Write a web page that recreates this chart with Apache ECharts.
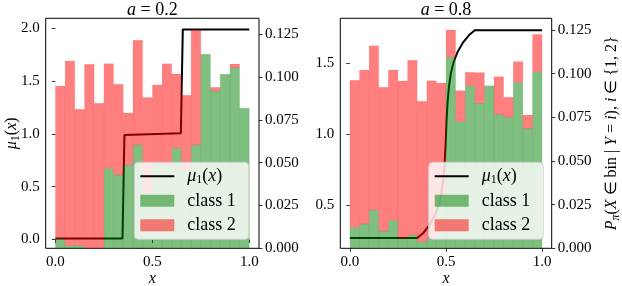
<!DOCTYPE html>
<html><head><meta charset="utf-8">
<script src="https://cdn.jsdelivr.net/npm/echarts@6/dist/echarts.min.js"></script>
<style>html,body{margin:0;padding:0;background:#fff}#c{width:622px;height:286px}</style>
</head><body><div id="c"></div>
<script>
// histogram bin edges (x)
const binEdges = [0, 0.05, 0.1, 0.15, 0.2, 0.25, 0.3, 0.35, 0.4, 0.45, 0.5, 0.55, 0.6, 0.65, 0.7, 0.75, 0.8, 0.85, 0.9, 0.95, 1.0];

// a = 0.2 panel: P(X in bin | Y = i)
const class1A = [0.0054, 0.0015, 0.0015, 0, 0, 0.0467, 0.0428, 0.0487, 0.0603, 0.0321, 0.049, 0.049, 0.0584, 0.0457, 0.0603, 0.1133, 0.0919, 0.1016, 0.1055, 0.0818];
const class2A = [0.0894, 0.1079, 0.0797, 0.1075, 0.0847, 0.0611, 0.053, 0.0303, 0.0612, 0.0559, 0.0464, 0.0588, 0.0434, 0.0437, 0.0672, 0, 0.0021, 0, 0.0021, 0];
const muXA = [0, 0.346, 0.356, 0.647, 0.657, 1.0];
const muYA = [0.01, 0.01, 0.99, 1.007, 1.99, 1.99];

// a = 0.8 panel
const class1B = [0.012, 0.0139, 0.0219, 0.0099, 0.016, 0.0059, 0.0076, 0.0038, 0.006, 0.03, 0.1094, 0.0725, 0.0931, 0.083, 0.0931, 0.0767, 0.075, 0.095, 0.0687, 0.1011];
const class2B = [0.0842, 0.0882, 0.0941, 0.0823, 0.0861, 0.0899, 0.1001, 0.0804, 0.09, 0.0647, 0.0156, 0.0178, 0.0077, 0.0176, 0, 0.0216, 0.0115, 0.0119, 0.0076, 0.0214];
const muXB = [0, 0.35, 0.38, 0.41, 0.44, 0.46, 0.475, 0.485, 0.492, 0.497, 0.5, 0.503, 0.508, 0.515, 0.525, 0.54, 0.56, 0.59, 0.62, 0.65, 1.0];
const muYB = [0.267, 0.267, 0.30, 0.35, 0.42, 0.49, 0.57, 0.67, 0.78, 0.9, 1.0, 1.1, 1.22, 1.33, 1.43, 1.51, 1.58, 1.65, 1.70, 1.733, 1.733];

// tick labels
const xTicks = [0, 0.5, 1.0];
const muTicksA = [0, 0.5, 1.0, 1.5, 2.0];
const muTicksB = [0.5, 1.0, 1.5];
const probTicks = [0, 0.025, 0.05, 0.075, 0.1, 0.125];
const titles = ['0.2', '0.8'];

const FONT = 'Liberation Serif';
const GREEN = 'rgba(0,128,0,0.5)';
const RED = 'rgba(255,0,0,0.5)';
const LINE_ICON = 'path://M0,0h34v0.02h-34z M0,5h34v2h-34z M0,11.98h34v0.02h-34z';

function histSeries(name, xi, yi, lower, upper, fill, stroke) {
  const data = lower.map((b, k) => [binEdges[k], binEdges[k + 1], b, upper[k]]);
  return {
    type: 'custom', name, xAxisIndex: xi, yAxisIndex: yi, z: 3,
    itemStyle: { color: fill },
    encode: { x: [0, 1], y: [2, 3] },
    data,
    renderItem(params, api) {
      const y0 = api.value(2), y1 = api.value(3);
      if (y1 - y0 <= 0) return null;
      const a = api.coord([api.value(0), y0]);
      const b = api.coord([api.value(1), y1]);
      return { type: 'rect', shape: { x: a[0], y: b[1], width: b[0] - a[0], height: a[1] - b[1] },
        style: { fill, stroke, lineWidth: 0.6 } };
    }
  };
}
function lineSeries(xs, ys, xi, yi) {
  return { type: 'line', name: 'μ1(x)', xAxisIndex: xi, yAxisIndex: yi, z: 2,
    data: xs.map((x, k) => [x, ys[k]]), symbol: 'none', showSymbol: false,
    lineStyle: { color: '#000', width: 2 }, itemStyle: { color: '#000' } };
}
function sum(a, b) { return a.map((v, k) => v + b[k]); }

const tickStyle = { length: 3.5, lineStyle: { color: '#000', width: 0.8 } };
const labelStyle = { color: '#000', fontFamily: FONT, fontSize: 15 };

function xAx(g) {
  return { type: 'value', gridIndex: g, min: -0.05, max: 1.05,
    axisLine: { show: false }, splitLine: { show: false },
    axisTick: Object.assign({ show: true, customValues: xTicks }, tickStyle),
    axisLabel: Object.assign({ customValues: xTicks, margin: 6, formatter: v => v.toFixed(1) }, labelStyle) };
}
function yAx(g, pos, min, max, ticks, dec) {
  return { type: 'value', gridIndex: g, position: pos, min, max,
    axisLine: { show: false }, splitLine: { show: false },
    axisTick: Object.assign({ show: true, customValues: ticks }, tickStyle),
    axisLabel: Object.assign({ customValues: ticks, margin: 6, formatter: v => v.toFixed(dec) }, labelStyle) };
}

const rich = {
  i: { fontFamily: FONT, fontStyle: 'italic', fontSize: 18, lineHeight: 20, color: '#000' },
  n: { fontFamily: FONT, fontSize: 18, lineHeight: 20, color: '#000' },
  s: { fontFamily: FONT, fontSize: 12, lineHeight: 15, verticalAlign: 'bottom', color: '#000' }
};
function legendAt(left) {
  return {
    orient: 'vertical', left, top: 162.3,
    data: [{ name: 'μ1(x)', icon: LINE_ICON }, { name: 'class 1', icon: 'rect' }, { name: 'class 2', icon: 'rect' }],
    itemWidth: 34, itemHeight: 12, itemGap: 4.5,
    padding: [4, 13, 4, 6],
    backgroundColor: 'rgba(255,255,255,0.8)', borderColor: '#cccccc', borderWidth: 1, borderRadius: 4,
    selectedMode: false,
    formatter: n => n === 'μ1(x)' ? '{i|μ}{s|1}{n|(}{i|x}{n|)}' : '{n|' + n + '}',
    textStyle: { fontFamily: FONT, fontSize: 18, color: '#000', lineHeight: 20, padding: [0, 0, 0, 8], rich }
  };
}

const gRich = {
  i: { fontFamily: FONT, fontStyle: 'italic', fontSize: 17, color: '#000' },
  n: { fontFamily: FONT, fontSize: 17, color: '#000' },
  s: { fontFamily: FONT, fontStyle: 'italic', fontSize: 12, color: '#000', padding: [8, 0, 0, 0] },
  s1: { fontFamily: FONT, fontSize: 12, color: '#000', padding: [8, 0, 0, 0] }
};
function gText(x, y, text, size, rot) {
  const r = {};
  for (const k in gRich) r[k] = Object.assign({}, gRich[k], k[0] === 's' ? {} : { fontSize: size });
  return { type: 'text', x, y, rotation: rot || 0, z: 100,
    style: { text, align: 'center', verticalAlign: 'middle', fontFamily: FONT, fontSize: size, fill: '#000', rich: r } };
}

const option = {
  animation: false,
  textStyle: { fontFamily: FONT },
  grid: [
    { left: 45.7, top: 18.3, width: 213.3, height: 230, show: true, borderColor: '#000', borderWidth: 1, backgroundColor: 'transparent' },
    { left: 340.3, top: 18.3, width: 211.4, height: 230, show: true, borderColor: '#000', borderWidth: 1, backgroundColor: 'transparent' }
  ],
  xAxis: [xAx(0), xAx(1)],
  yAxis: [
    yAx(0, 'left', -0.083, 2.095, muTicksA, 1),
    yAx(0, 'right', 0, 0.1343, probTicks, 3),
    yAx(1, 'left', 0.194, 1.818, muTicksB, 1),
    yAx(1, 'right', 0, 0.1317, probTicks, 3)
  ],
  legend: [legendAt(134.3), legendAt(428.7)],
  series: [
    lineSeries(muXA, muYA, 0, 0),
    histSeries('class 1', 0, 1, class1A.map(() => 0), class1A, GREEN, 'rgba(0,100,0,0.15)'),
    histSeries('class 2', 0, 1, class1A, sum(class1A, class2A), RED, 'rgba(200,0,0,0.12)'),
    lineSeries(muXB, muYB, 1, 2),
    histSeries('class 1', 1, 3, class1B.map(() => 0), class1B, GREEN, 'rgba(0,100,0,0.15)'),
    histSeries('class 2', 1, 3, class1B, sum(class1B, class2B), RED, 'rgba(200,0,0,0.12)')
  ],
  graphic: [
    gText(152.3, 10, '{i|a}{n| = ' + titles[0] + '}', 18),
    gText(446, 10, '{i|a}{n| = ' + titles[1] + '}', 18),
    gText(152.3, 279, '{i|x}', 16),
    gText(446, 279, '{i|x}', 16),
    gText(12, 133.3, '{i|μ}{s1|1}{n|(}{i|x}{n|)}', 16, Math.PI / 2),
    gText(612, 133.3, '{i|P}{s|π}{n|(}{i|X}{n| ∈ bin | }{i|Y}{n| = }{i|i}{n|), }{i|i}{n| ∈ }{1, 2}', 16, Math.PI / 2)
  ]
};
const chart = echarts.init(document.getElementById('c'), null, { renderer: 'canvas' });
chart.setOption(option);
</script></body></html>
